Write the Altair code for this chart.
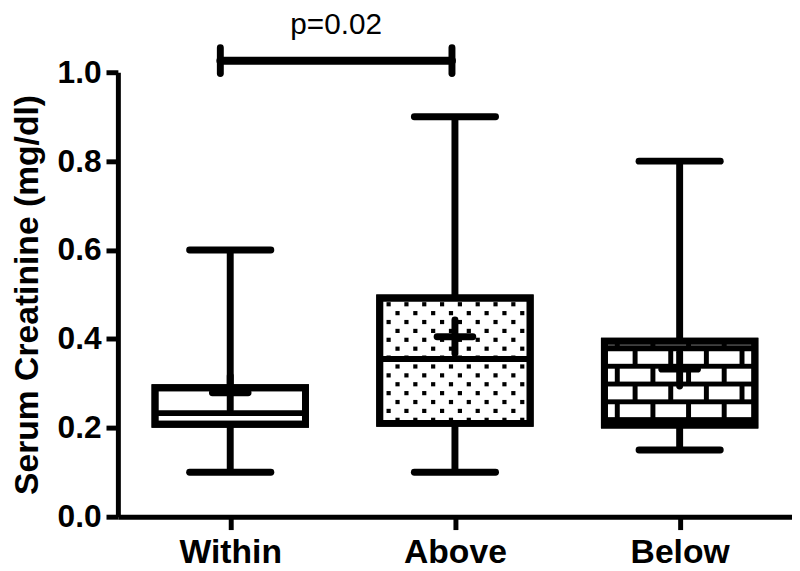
import json
import altair as alt
import pandas as pd

# ---------------- data ----------------
categories = ["Within", "Above", "Below"]
whisker_min = [0.10, 0.10, 0.15]
q1 = [0.208, 0.210, 0.206]
median = [0.233, 0.355, 0.379]
q3 = [0.290, 0.492, 0.395]
whisker_max = [0.60, 0.90, 0.80]
mean = [0.279, 0.405, 0.332]
box_pattern = ["none", "dots", "bricks"]

bracket_from = "Within"
bracket_to = "Above"
bracket_label = "p=0.02"
bracket_level = 1.026

# ---------------- layout / style ----------------
W, H = 681, 449
X_PX = W / 3.0          # pixels per category unit
Y_PX = H / 1.0          # pixels per y unit
BOX_HALF = 76 / X_PX
CAP_HALF = 41 / X_PX
PLUS_X = 18 / X_PX
PLUS_Y = 17 / Y_PX
STROKE = 7
FONT = "Liberation Sans"

pos = list(range(len(categories)))
box_df = pd.DataFrame({
    "cat": categories, "pos": pos,
    "wmin": whisker_min, "q1": q1, "median": median, "q3": q3,
    "wmax": whisker_max, "mean": mean,
    "x_lo": [p - BOX_HALF for p in pos], "x_hi": [p + BOX_HALF for p in pos],
    "c_lo": [p - CAP_HALF for p in pos], "c_hi": [p + CAP_HALF for p in pos],
    "p_lo": [p - PLUS_X for p in pos], "p_hi": [p + PLUS_X for p in pos],
    "m_lo": [m - PLUS_Y for m in mean], "m_hi": [m + PLUS_Y for m in mean],
    "fill": ["black" if b == "bricks" else "white" for b in box_pattern],
})

# ---- fill patterns (decoration inside the boxes, derived from box extents) ----
inner_pad = (STROKE / 2) / Y_PX
inner_half_px = 76 - STROKE / 2
dots, bricks = [], []
for i, patt in enumerate(box_pattern):
    lo, hi = q1[i] + inner_pad, q3[i] - inner_pad
    if patt == "dots":
        k = 0
        y = q3[i] - 0.014
        while y > lo:
            start = -67 if k % 2 == 0 else -58
            for j in range(8):
                xp = start + 18 * j
                if abs(xp) < inner_half_px - 2:
                    dots.append({"x": i + xp / X_PX, "y": y})
            k += 1
            y = q3[i] - 0.014 - 0.02 * k
    elif patt == "bricks":
        for k in range(-1, 6):
            top = q3[i] - 0.022 - 0.04 * k
            bot = top - 0.029
            t, b = min(top, hi), max(bot, lo)
            if t <= b:
                continue
            joints = [-45 + 36 * j for j in range(4)] if k % 2 == 0 else [-63 + 36 * j for j in range(4)]
            edges = [-inner_half_px] + joints + [inner_half_px]
            for a, c in zip(edges[:-1], edges[1:]):
                x1 = a if a == -inner_half_px else a + 2.5
                x2 = c if c == inner_half_px else c - 2.5
                if x2 > x1:
                    bricks.append({"x": i + x1 / X_PX, "x2": i + x2 / X_PX, "y": t, "y2": b})
dots_df = pd.DataFrame(dots)
bricks_df = pd.DataFrame(bricks)

i_from, i_to = categories.index(bracket_from), categories.index(bracket_to)
bx1, bx2 = i_from - 10 / X_PX, i_to - 3 / X_PX
bracket_df = pd.DataFrame({"x": [bx1], "x2": [bx2], "y": [bracket_level],
                           "ylo": [bracket_level - 13 / Y_PX], "yhi": [bracket_level + 13 / Y_PX],
                           "tx": [(bx1 + bx2) / 2], "ty": [bracket_level + 27 / Y_PX],
                           "label": [bracket_label]})

# ---------------- scales & axes ----------------
x_scale = alt.Scale(domain=[-0.5, len(categories) - 0.5], nice=False, zero=False)
y_scale = alt.Scale(domain=[0, 1.0], nice=False, zero=False)
x_axis = alt.Axis(values=pos, labelExpr=json.dumps(categories) + "[datum.value]",
                  title=None, grid=False, labelFontSize=34, labelFontWeight="bold",
                  labelColor="black", labelFont=FONT, labelPadding=6,
                  tickSize=13, tickWidth=5, tickColor="black",
                  domainColor="black", domainWidth=5)
y_axis = alt.Axis(values=[0, 0.2, 0.4, 0.6, 0.8, 1.0], format=".1f",
                  title="Serum Creatinine (mg/dl)", titleFontSize=34, titleFontWeight="bold",
                  titleColor="black", titleFont=FONT, titleX=-81, titleBaseline="alphabetic",
                  titleAngle=270, grid=False, labelFontSize=32, labelFontWeight="bold",
                  labelColor="black", labelFont=FONT, labelPadding=5,
                  tickSize=12, tickWidth=5, tickColor="black",
                  domainColor="black", domainWidth=5)


def X(f):
    return alt.X(f, scale=x_scale, axis=x_axis)


def Y(f):
    return alt.Y(f, scale=y_scale, axis=y_axis)


base = alt.Chart(box_df)

stems = base.mark_rule(color="black", strokeWidth=STROKE).encode(x=X("pos:Q"), y=Y("wmin:Q"), y2="wmax:Q")
cap_lo = base.mark_rule(color="black", strokeWidth=STROKE, strokeCap="round").encode(
    x=X("c_lo:Q"), x2="c_hi:Q", y=Y("wmin:Q"))
cap_hi = base.mark_rule(color="black", strokeWidth=STROKE, strokeCap="round").encode(
    x=X("c_lo:Q"), x2="c_hi:Q", y=Y("wmax:Q"))
boxes = base.mark_rect(stroke="black", strokeWidth=STROKE).encode(
    x=X("x_lo:Q"), x2="x_hi:Q", y=Y("q1:Q"), y2="q3:Q",
    fill=alt.Fill("fill:N", scale=None))
dot_layer = alt.Chart(dots_df).mark_square(size=18, color="black", opacity=1).encode(
    x=X("x:Q"), y=Y("y:Q"))
brick_layer = alt.Chart(bricks_df).mark_rect(color="white").encode(
    x=X("x:Q"), x2="x2:Q", y=Y("y:Q"), y2="y2:Q")
medians = base.mark_rule(color="black", strokeWidth=6).encode(
    x=X("x_lo:Q"), x2="x_hi:Q", y=Y("median:Q"))
outlines = base.mark_rect(stroke="black", strokeWidth=STROKE, fillOpacity=0).encode(
    x=X("x_lo:Q"), x2="x_hi:Q", y=Y("q1:Q"), y2="q3:Q")
mean_h = base.mark_rule(color="black", strokeWidth=STROKE, strokeCap="round").encode(
    x=X("p_lo:Q"), x2="p_hi:Q", y=Y("mean:Q"))
mean_v = base.mark_rule(color="black", strokeWidth=STROKE, strokeCap="round").encode(
    x=X("pos:Q"), y=Y("m_lo:Q"), y2="m_hi:Q")

bb = alt.Chart(bracket_df)
br_h = bb.mark_rule(color="black", strokeWidth=8, strokeCap="round").encode(
    x=X("x:Q"), x2="x2:Q", y=Y("y:Q"))
br_l = bb.mark_rule(color="black", strokeWidth=7, strokeCap="round").encode(
    x=X("x:Q"), y=Y("ylo:Q"), y2="yhi:Q")
br_r = bb.mark_rule(color="black", strokeWidth=7, strokeCap="round").encode(
    x=X("x2:Q"), y=Y("ylo:Q"), y2="yhi:Q")
br_t = bb.mark_text(font=FONT, fontSize=30, color="black", align="center", baseline="alphabetic").encode(
    x=X("tx:Q"), y=Y("ty:Q"), text="label:N")

chart = alt.layer(stems, cap_lo, cap_hi, boxes, dot_layer, brick_layer, medians, outlines,
                  mean_h, mean_v, br_h, br_l, br_r, br_t).properties(
    width=W, height=H,
    autosize=alt.AutoSizeParams(type="none"),
    padding={"left": 111, "top": 62, "right": 0, "bottom": 56},
    background="white",
).configure(font=FONT, view=alt.ViewConfig(stroke=None))

chart.save("out.html", embed_options={"renderer": "svg", "actions": False})
